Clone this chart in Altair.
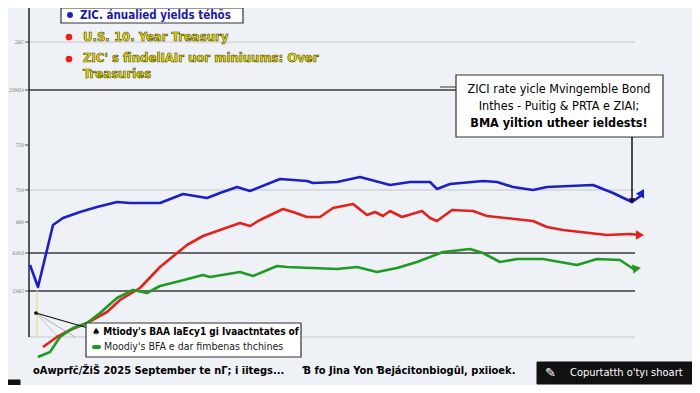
import altair as alt
import pandas as pd

# ---- series (t = time index, v = yield level in chart units) ----
blue_t = [1, 9, 24, 34, 51, 68, 88, 101, 118, 131, 154, 178, 191, 208, 221, 251, 278, 284, 308, 331,
          361, 381, 401, 408, 421, 454, 468, 484, 504, 518, 564, 584, 603, 613]
blue_v = [105, 83, 145, 152, 158, 163, 168, 167, 167, 167, 176, 172, 177, 183, 179, 191, 189, 187, 188, 193,
          185, 188, 188, 181, 186, 189, 188, 183, 180, 183, 185, 177, 168, 175]

red_t = [14, 28, 41, 58, 78, 91, 111, 131, 158, 174, 191, 211, 221, 231, 254, 264, 278, 291, 304, 324,
         338, 346, 354, 361, 373, 393, 401, 408, 423, 444, 458, 504, 518, 534, 578, 601, 611]
red_v = [23, 33, 40, 47, 58, 70, 82, 103, 125, 134, 140, 147, 144, 150, 161, 158, 153, 153, 162, 166,
         155, 158, 154, 159, 153, 159, 152, 149, 160, 159, 154, 149, 143, 140, 135, 136, 135]

green_t = [9, 21, 31, 44, 58, 71, 88, 104, 118, 131, 151, 174, 181, 211, 224, 248, 258, 308, 328, 348,
           368, 388, 414, 441, 454, 471, 488, 514, 548, 568, 591, 606]
green_v = [13, 18, 33, 42, 47, 57, 72, 80, 77, 84, 89, 95, 93, 98, 94, 104, 103, 101, 103, 98,
           102, 108, 118, 121, 117, 108, 111, 111, 105, 111, 110, 100]

series_names = ["ZIC annualized yield", "U.S. 10 Year Treasury", "Moody's BAA"]
series_colors = ["#1c1fc4", "#e3221c", "#1f9a22"]

# ---- y-axis tick labels ----
tick_values = [328, 280, 225, 180, 148, 117, 79]
tick_labels = ["28C", "20MI9", "750", "709", "480", "6903", "2985"]
grid_light = [328, 180, 33]
grid_dark = [280, 117, 79]

# ---- texts ----
legend1_text = "ZIC. ánualied yields téhös"
legend2_text = "U.S. 10. Year Treasury"
legend3_lines = ["ZIC' s findelIAIr uor miniuums: Over", "Treasuries"]
annot_lines = ["ZICI rate yicle Mvingemble Bond", "Inthes - Puitig & PRTA e ZIAI;", "BMA  yiltion utheer ieldests!"]
low_legend_1 = "♠ Mtiody's BAA IaEcy1 gi Ivaactntates of"
low_legend_2 = "Moodiy's BFA e dar fimbenas thchines"
caption_1 = "oAwprfĉ/ŽiŠ 2025 September te nΓ; i ĩitegs..."
caption_2 = "Ɓ fo Jina Yon  Ɓejácitonbiogûl, pxiioek."
copyright_text = "Copurtatth o'tyı shoart"

FONT = "Liberation Sans Narrow, DejaVu Sans Condensed, Liberation Sans, Arial"

rows = []
for name, ts, vs in zip(series_names, [blue_t, red_t, green_t], [blue_v, red_v, green_v]):
    for t, v in zip(ts, vs):
        rows.append({"series": name, "t": t, "v": v})
df = pd.DataFrame(rows)
ends = pd.DataFrame({
    "series": series_names,
    "t": [blue_t[-1], red_t[-1], green_t[-1]],
    "v": [blue_v[-1], red_v[-1], green_v[-1]],
})

xs = alt.Scale(domain=[0, 611])
ys = alt.Scale(domain=[0, 362])
X = alt.X("t:Q", scale=xs, axis=None)
Y = alt.Y("v:Q", scale=ys, axis=None)
col = alt.Color("series:N", scale=alt.Scale(domain=series_names, range=series_colors), legend=None)

one = pd.DataFrame({"a": [0]})


def box(x1, x2, y1, y2, fill="white", stroke="#333333", sw=1.2):
    return alt.Chart(one).mark_rect(fill=fill, stroke=stroke, strokeWidth=sw).encode(
        x=alt.value(x1), x2=alt.value(x2), y=alt.value(y1), y2=alt.value(y2))


def text(s, x, y, **kw):
    base = dict(font=FONT, fontSize=12, color="black", align="left", baseline="middle")
    base.update(kw)
    return alt.Chart(pd.DataFrame({"s": [s]})).mark_text(**base).encode(
        x=alt.value(x), y=alt.value(y), text="s:N")


def seg(x1, y1, x2, y2, color="#222222", sw=1.0):
    return alt.Chart(one).mark_rule(color=color, strokeWidth=sw).encode(
        x=alt.value(x1), y=alt.value(y1), x2=alt.value(x2), y2=alt.value(y2))


def dot(x, y, color, size=40, shape="circle"):
    return alt.Chart(one).mark_point(filled=True, color=color, size=size, shape=shape, opacity=1).encode(
        x=alt.value(x), y=alt.value(y))


grid_l = alt.Chart(pd.DataFrame({"v": grid_light})).mark_rule(color="#c4c6ca", strokeWidth=1).encode(
    y=Y, x=alt.value(0), x2=alt.value(606))
grid_d = alt.Chart(pd.DataFrame({"v": grid_dark})).mark_rule(color="#3a3a3a", strokeWidth=1.4).encode(
    y=Y, x=alt.value(0), x2=alt.value(606))
tick_df = pd.DataFrame({"v": tick_values, "lab": tick_labels})
ticks = alt.Chart(tick_df).mark_rule(color="#555555", strokeWidth=1).encode(
    y=Y, x=alt.value(-4), x2=alt.value(0))
tick_text = alt.Chart(tick_df).mark_text(font="DejaVu Serif Condensed, DejaVu Serif", fontStyle="italic",
                                         fontSize=5, color="#777777", align="right", baseline="middle").encode(
    y=Y, x=alt.value(-5), text="lab:N")
yaxis = alt.Chart(pd.DataFrame({"v": [33], "v2": [370]})).mark_rule(color="#222222", strokeWidth=1.5).encode(
    y=Y, y2="v2:Q", x=alt.value(0))

lines = alt.Chart(df).mark_line(strokeWidth=2.6, strokeJoin="round").encode(
    x=X, y=Y, color=col, detail="series:N", order="t:Q")

end_shapes = []
for i, (shape, ang) in enumerate([("triangle-down", 330), ("triangle-right", 0), ("triangle-down", 20)]):
    end_shapes.append(
        alt.Chart(ends.iloc[[i]]).mark_point(filled=True, opacity=1, size=90, shape=shape, angle=ang).encode(
            x=X, y=Y, color=col))

layers = [grid_l, grid_d, ticks, tick_text, yaxis]

# pointer lines at lower left
layers += [
    seg(8, 282, 8, 329, color="#e8d86a", sw=1),
    seg(7, 305, 46, 329, color="#888888", sw=0.6),
    seg(7, 305, 31, 331, color="#aaaaaa", sw=0.6),
]

layers += [lines] + end_shapes

YEL = dict(fontSize=13, fontWeight="bold", color="#f1e40a", stroke="#4a4400", strokeWidth=0.6)

layers += [
    seg(7, 305, 66, 322, color="#111111", sw=1.3),
    dot(7, 305, "#111111", size=14),
    # top legend
    box(32, 214, 0, 15),
    dot(41, 7, series_colors[0], size=35),
    text(legend1_text, 51, 7.5, fontSize=11.5, fontWeight="bold", color="#1a1aa8"),
    dot(40, 29, series_colors[1], size=45),
    text(legend2_text, 54, 29, **YEL),
    dot(40, 51, series_colors[1], size=45),
    text(legend3_lines[0], 54, 50, **YEL),
    text(legend3_lines[1], 54, 66, **YEL),
    # annotation box
    seg(411, 79, 427, 79, color="#333333", sw=1),
    box(427, 634, 67, 129),
    text(annot_lines[0], 530, 81, fontSize=12.5, align="center"),
    text(annot_lines[1], 530, 98, fontSize=12.5, align="center"),
    text(annot_lines[2], 530, 115, fontSize=12.5, align="center", fontWeight="bold"),
    seg(603, 129, 603, 193, color="#111111", sw=1.5),
    dot(603, 193, "#111111", size=40, shape="triangle-down"),
    # lower legend
    box(57, 272, 315, 349),
    text(low_legend_1, 63, 324, fontSize=10, fontWeight="bold"),
    alt.Chart(one).mark_rect(color=series_colors[2], cornerRadius=2).encode(
        x=alt.value(63), x2=alt.value(72), y=alt.value(337), y2=alt.value(341)),
    text(low_legend_2, 75, 339, fontSize=10.5, color="#222222"),
    # caption
    text(caption_1, 4, 363, fontSize=11, fontWeight="bold"),
    text(caption_2, 274, 363, fontSize=11, fontWeight="bold"),
    # copyright badge
    box(508, 668, 354, 376, fill="#111111", stroke="#111111", sw=1),
    text("✎", 516, 365, fontSize=13, color="white", font="DejaVu Sans"),
    text(copyright_text, 541, 365, fontSize=11, color="white"),
    box(-21, -9, 372, 380, fill="#111111", stroke="#111111", sw=1),
]

chart = alt.layer(*layers).properties(
    width=611, height=362,
    autosize=alt.AutoSizeParams(type="none"),
    padding={"left": 21, "top": 0, "right": 52, "bottom": 15},
    background="#eef1f6",
).configure_view(stroke=None)

chart.save("out.html", embed_options={"renderer": "svg", "actions": False})
